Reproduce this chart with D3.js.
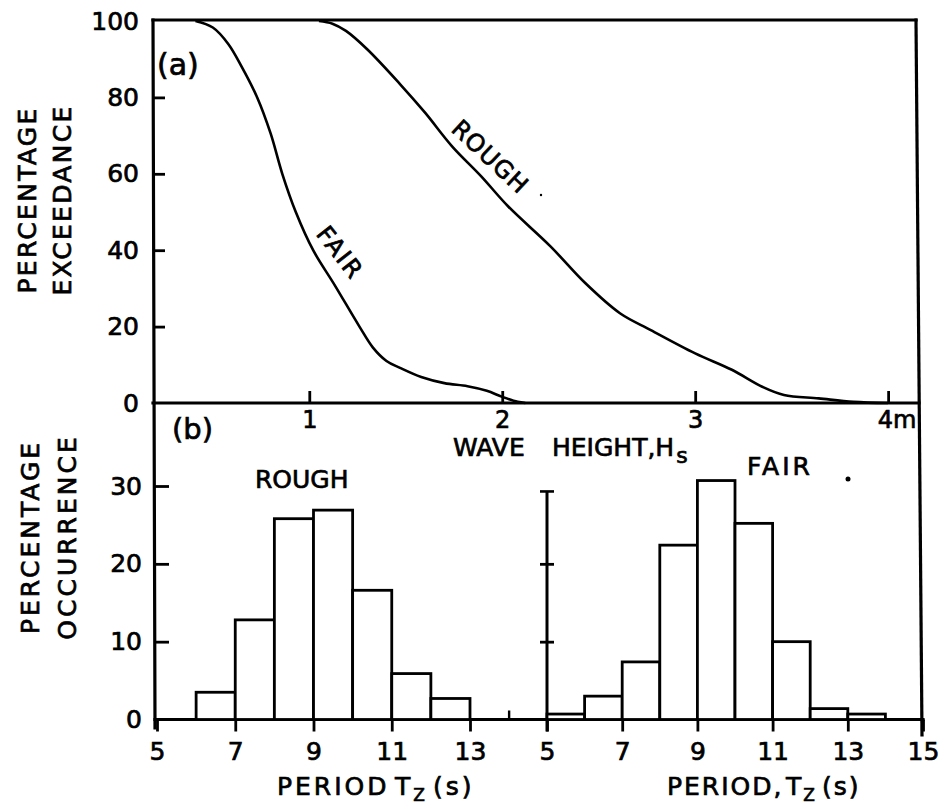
<!DOCTYPE html>
<html><head><meta charset="utf-8">
<script src="https://cdn.jsdelivr.net/npm/d3@7"></script>
<style>
body{margin:0;background:#fff}
svg text{font-family:"DejaVu Sans",sans-serif;fill:#000;stroke:#000;stroke-width:0.7px}
</style>
</head><body>
<svg id="c" width="945" height="809"></svg>
<script>
// ---- panel (a): percentage exceedance vs wave height ----
const fairHs      = [0.41, 0.50, 0.58, 0.65, 0.73, 0.80, 0.86, 0.93, 1.02, 1.13, 1.26, 1.33, 1.40, 1.47, 1.58, 1.70, 1.82, 1.92, 2.00, 2.08, 2.12];
const fairExceed  = [100, 98.3, 94, 88, 80, 70.5, 60, 50, 40, 31, 20, 14.5, 11, 9.2, 6.8, 5.2, 4.4, 3.2, 1.6, 0.3, 0];
const roughHs     = [1.05, 1.12, 1.19, 1.30, 1.47, 1.60, 1.74, 1.89, 2.03, 2.25, 2.43, 2.61, 2.77, 3.00, 3.19, 3.35, 3.46, 3.64, 3.82, 4.00];
const roughExceed = [100, 99.3, 97.4, 92.6, 83.5, 76, 67.2, 59.4, 51.5, 41, 31.4, 23.5, 19.1, 13, 8.7, 4.2, 2.1, 1.2, 0.3, 0];
const hsTicks     = [1, 2, 3, 4];
const exceedTicks = [0, 20, 40, 60, 80, 100];

// ---- panel (b): percentage occurrence vs period Tz ----
const roughBinStart  = [6, 7, 8, 9, 10, 11, 12];
const roughOccur     = [3.5, 12.8, 25.8, 26.9, 16.6, 5.9, 2.7];
const fairBinStart   = [5, 6, 7, 8, 9, 10, 11, 12, 13];
const fairOccur      = [0.7, 3, 7.4, 22.4, 30.7, 25.2, 10, 1.4, 0.7];
const roughTzTicks   = [5, 7, 9, 11, 13];
const fairTzTicks    = [5, 7, 9, 11, 13, 15];
const occurTicks     = [0, 10, 20, 30];
const midAxisTicks   = [10, 20];
const midAxisTop     = 29.3;

const svg = d3.select("#c");
const FS = 25;

// scales
const xTop = d3.scaleLinear().domain([0.19, 4.16]).range([153, 919]);
const yTop = d3.scaleLinear().domain([0, 100]).range([403, 21]);
const yBot = d3.scaleLinear().domain([0, 30]).range([719.5, 486]);
const xL   = d3.scaleLinear().domain([5, 13]).range([157, 470]);
const xR   = d3.scaleLinear().domain([5, 15]).range([547, 923]);

function styleAxis(g, fs){
  g.select(".domain").remove();
  g.selectAll(".tick line").attr("stroke","#000").attr("stroke-width",2.8);
  g.selectAll(".tick text").attr("font-size",fs || FS).attr("font-family",'"DejaVu Sans",sans-serif').attr("fill","#000");
  g.attr("font-family",null).attr("font-size",null);
}

// frame
const frame = svg.append("g").attr("stroke","#000").attr("stroke-width",3.2).attr("fill","none").attr("stroke-linecap","square");
frame.append("line").attr("x1",153).attr("y1",20).attr("x2",155).attr("y2",728);
frame.append("line").attr("x1",153).attr("y1",20).attr("x2",916).attr("y2",20);
frame.append("line").attr("x1",916).attr("y1",20).attr("x2",922).attr("y2",735);
frame.append("line").attr("x1",153).attr("y1",403).attr("x2",919).attr("y2",403);
frame.append("line").attr("x1",155).attr("y1",719.5).attr("x2",923).attr("y2",719.5);

// top y axis
const gy = svg.append("g").attr("transform","translate(153,0)")
  .call(d3.axisLeft(yTop).tickValues(exceedTicks).tickSize(-12).tickPadding(14));
styleAxis(gy);
gy.selectAll(".tick").filter(d => d===0 || d===100).select("line").remove();

// top x axis
const gx = svg.append("g").attr("transform","translate(0,403)")
  .call(d3.axisBottom(xTop).tickValues(hsTicks).tickSize(-12).tickPadding(8).tickFormat(d => d===4 ? "4m" : d));
styleAxis(gx, 24);
gx.selectAll(".tick").filter(d => d===4).select("text").attr("text-anchor","start").attr("dx",-11);

// curves
const line = d3.line().curve(d3.curveCatmullRom.alpha(0.5));
svg.append("path").attr("d", line(fairHs.map((h,i)=>[xTop(h), yTop(fairExceed[i])])))
  .attr("fill","none").attr("stroke","#000").attr("stroke-width",2.6);
svg.append("path").attr("d", line(roughHs.map((h,i)=>[xTop(h), yTop(roughExceed[i])])))
  .attr("fill","none").attr("stroke","#000").attr("stroke-width",2.6);

svg.append("text").attr("transform","translate(340,253) rotate(52)")
  .attr("text-anchor","middle").attr("dominant-baseline","central").attr("font-size",24).attr("letter-spacing",2).text("FAIR");
svg.append("text").attr("transform","translate(490,157) rotate(43)")
  .attr("text-anchor","middle").attr("dominant-baseline","central").attr("font-size",24).attr("letter-spacing",1).text("ROUGH");
svg.append("text").attr("x",157).attr("y",75).attr("font-size",30).text("(a)");

// y label top
const yl1 = svg.append("text").attr("transform","translate(44,200) rotate(-90)").attr("text-anchor","middle").attr("font-size",FS).attr("letter-spacing",2.3);
yl1.append("tspan").attr("x",0).attr("dy",-8).text("PERCENTAGE");
yl1.append("tspan").attr("x",0).attr("dy",35).text("EXCEEDANCE");

// x label top
const xlt = svg.append("text").attr("x",453).attr("y",456).attr("font-size",FS);
xlt.append("tspan").text("WAVE");
xlt.append("tspan").attr("x",552).text("HEIGHT,H");
xlt.append("tspan").attr("dy",7).attr("font-size",22).attr("dx",2).text("s");

// ---- bottom panel ----
const gyb = svg.append("g").attr("transform","translate(155,0)")
  .call(d3.axisLeft(yBot).tickValues(occurTicks).tickSize(-14).tickPadding(13));
styleAxis(gyb);
gyb.selectAll(".tick").filter(d => d===0).select("line").remove();

const gxl = svg.append("g").attr("transform","translate(0,719.5)")
  .call(d3.axisBottom(xL).tickValues(roughTzTicks).tickSize(12).tickPadding(11));
styleAxis(gxl);
// small upward tick on the rough scale
svg.append("line").attr("x1",xL(14)).attr("x2",xL(14)).attr("y1",yBot(0)).attr("y2",yBot(0)-9)
  .attr("stroke","#000").attr("stroke-width",2.4);

const gxr = svg.append("g").attr("transform","translate(0,719.5)")
  .call(d3.axisBottom(xR).tickValues(fairTzTicks).tickSize(12).tickPadding(11));
styleAxis(gxr);

// middle axis (fair histogram)
const mx = xR(5);
svg.append("line").attr("x1",mx).attr("x2",mx).attr("y1",yBot(midAxisTop)).attr("y2",yBot(0)+12)
  .attr("stroke","#000").attr("stroke-width",3);
svg.append("line").attr("x1",mx-7).attr("x2",mx+7).attr("y1",yBot(midAxisTop)).attr("y2",yBot(midAxisTop))
  .attr("stroke","#000").attr("stroke-width",2.6);
const gm1 = svg.append("g").attr("transform",`translate(${mx},0)`).call(d3.axisRight(yBot).tickValues(midAxisTicks).tickSize(7).tickFormat(""));
styleAxis(gm1);
const gm2 = svg.append("g").attr("transform",`translate(${mx},0)`).call(d3.axisLeft(yBot).tickValues(midAxisTicks).tickSize(7).tickFormat(""));
styleAxis(gm2);

// bars
function bars(starts, vals, xs){
  svg.append("g").selectAll("rect").data(starts).join("rect")
    .attr("x", d => xs(d)).attr("width", d => xs(d+1)-xs(d))
    .attr("y", (d,i) => yBot(vals[i])).attr("height", (d,i) => yBot(0)-yBot(vals[i]))
    .attr("fill","#fff").attr("stroke","#000").attr("stroke-width",2.8);
}
bars(roughBinStart, roughOccur, xL);
bars(fairBinStart, fairOccur, xR);

svg.append("text").attr("x",172).attr("y",439).attr("font-size",29).text("(b)");
svg.append("text").attr("x",255).attr("y",488).attr("font-size",FS).text("ROUGH");
svg.append("text").attr("x",747).attr("y",475).attr("font-size",FS).attr("letter-spacing",3).text("FAIR");
svg.append("circle").attr("cx",848).attr("cy",479).attr("r",2.5).attr("fill","#000");
svg.append("circle").attr("cx",541).attr("cy",195).attr("r",1.2).attr("fill","#000");

// y label bottom
const yl2 = svg.append("text").attr("transform","translate(47,537) rotate(-90)").attr("text-anchor","middle").attr("font-size",FS).attr("letter-spacing",3);
yl2.append("tspan").attr("x",0).attr("dy",-8).text("PERCENTAGE");
yl2.append("tspan").attr("x",0).attr("dy",37).text("OCCURRENCE");

// x labels bottom
const xb1 = svg.append("text").attr("x",277).attr("y",795).attr("font-size",FS).attr("letter-spacing",3);
xb1.append("tspan").text("PERIOD");
xb1.append("tspan").attr("x",395).text("T");
xb1.append("tspan").attr("dy",6).attr("font-size",17).attr("letter-spacing",0).text("Z");
xb1.append("tspan").attr("x",433).attr("dy",-6).text("(s)");

const xb2 = svg.append("text").attr("x",667).attr("y",795).attr("font-size",FS).attr("letter-spacing",2);
xb2.append("tspan").text("PERIOD,");
xb2.append("tspan").attr("x",786).text("T");
xb2.append("tspan").attr("dy",6).attr("font-size",17).attr("letter-spacing",0).text("Z");
xb2.append("tspan").attr("x",822).attr("dy",-6).text("(s)");
</script>
</body></html>
